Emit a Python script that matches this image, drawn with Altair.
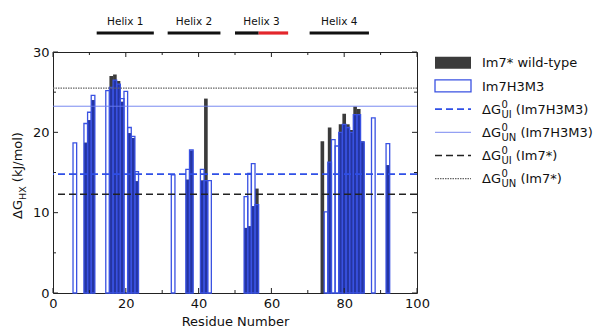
import altair as alt
import pandas as pd

# ---------------------------------------------------------------------------
# Data: hydrogen-exchange protection free energies (kJ/mol) per residue.
# None marks residues with no measurable protection.
# ---------------------------------------------------------------------------
residue = [6, 9, 10, 11, 15, 16, 17, 18, 19, 20, 21, 22, 23,
           33, 37, 38, 41, 42, 43,
           53, 54, 55, 56,
           74, 75, 76, 77, 78, 79, 80, 81, 82, 83, 84, 85, 88, 92]
dg_wt = [None, 18.7, 21.5, 24.0, None, 27.0, 27.2, 26.4, 23.8, None, 19.9, 19.3, 13.9,
         None, 14.1, 17.7, 14.0, 24.2, None,
         8.1, 8.3, 10.8, 13.0,
         18.9, None, 20.6, None, None, 21.0, 22.3, 21.0, 20.3, 23.2, 22.9, 18.9, None, 15.9]
dg_h3m3 = [18.7, 21.1, 22.5, 24.6, 25.2, 25.6, 26.5, 26.0, 24.2, 25.1, 20.6, 19.5, 15.1,
           14.7, 15.4, 17.8, 15.4, 14.0, 14.0,
           12.0, 14.9, 16.1, 11.0,
           None, 10.1, 16.3, 19.1, 18.3, 20.0, 21.0, 20.6, 20.0, 22.2, 22.2, 18.8, 21.8, 18.6]

# Global stabilities from equilibrium denaturation (kJ/mol)
ref_names = ["UI_H3M3", "UN_H3M3", "UI_wt", "UN_wt"]
ref_values = [14.8, 23.25, 12.3, 25.5]

# Secondary structure annotation
helix_names = ["Helix 1", "Helix 2", "Helix 3", "Helix 4"]
helix_start = [12.0, 31.5, 50.0, 70.5]
helix_end = [27.7, 46.0, 64.6, 86.8]
segment_start = [12.0, 31.5, 50.0, 56.5, 70.5]
segment_end = [27.7, 46.0, 56.5, 64.6, 86.8]
segment_kind = ["helix", "helix", "helix", "mutated", "helix"]

x_ticks = [0, 10, 20, 30, 40, 50, 60, 70, 80, 90, 100]
y_ticks = [0, 5, 10, 15, 20, 25, 30]

legend_labels = [
    "Im7* wild-type",
    "Im7H3M3",
    ("ΔG", "0", "UI", " (Im7H3M3)"),
    ("ΔG", "0", "UN", " (Im7H3M3)"),
    ("ΔG", "0", "UI", " (Im7*)"),
    ("ΔG", "0", "UN", " (Im7*)"),
]

# ---------------------------------------------------------------------------
# Styling and layout
# ---------------------------------------------------------------------------
FONT = "DejaVu Sans"
W, H = 364, 241
GRAY = "#3b3b3b"
OVERLAP = "#2435a2"
BLUE = "#3a52e2"
ref_style = {
    "UI_H3M3": dict(color="#2f4fe6", strokeDash=[7, 4], strokeWidth=1.6),
    "UN_H3M3": dict(color="#6a7cee", strokeWidth=0.9),
    "UI_wt": dict(color="#222222", strokeDash=[7, 4], strokeWidth=1.6),
    "UN_wt": dict(color="#666666", strokeDash=[1.5, 1], strokeWidth=1.2),
}

# approximate DejaVu Sans advance widths (em) for placing rich-text pieces
ADV = {" ": .318, "(": .390, ")": .390, "*": .500, "-": .361, "/": .337,
       "0": .636, "3": .636, "7": .636, "Δ": .684, "G": .775, "H": .752,
       "I": .295, "J": .295, "M": .863, "N": .748, "U": .732, "X": .685,
       "k": .579, "l": .278, "m": .974, "o": .612}


def text_width(s, size):
    return size * sum(ADV.get(ch, 0.6) for ch in s)


def split_space(s, size):
    """SVG drops leading blanks, so turn them into an offset instead."""
    stripped = s.lstrip(" ")
    return stripped, text_width(s[: len(s) - len(stripped)], size)


xs = alt.Scale(domain=[0, 100], nice=False, zero=False)
ys = alt.Scale(domain=[0, 30], nice=False)
x_axis = alt.Axis(values=[0, 20, 40, 60, 80, 100], title="Residue Number",
                  labelFlush=False)
y_axis = alt.Axis(values=[0, 10, 20, 30], title=None, labelFlush=False)


def X(field):
    return alt.X(field, type="quantitative", scale=xs, axis=x_axis)


def Y(field):
    return alt.Y(field, type="quantitative", scale=ys, axis=y_axis)


df = pd.DataFrame({"residue": residue, "wt": dg_wt, "h3": dg_h3m3})

layers = []

# wild-type bars (filled)
layers.append(
    alt.Chart(df)
    .transform_filter("isValid(datum.wt)")
    .transform_calculate(x0="datum.residue - 0.5", x1="datum.residue + 0.5")
    .mark_rect(fill=GRAY)
    .encode(x=X("x0"), x2="x1:Q", y=Y("wt"), y2=alt.datum(0))
)
# region shared by both proteins
layers.append(
    alt.Chart(df)
    .transform_filter("isValid(datum.wt) && isValid(datum.h3)")
    .transform_calculate(x0="datum.residue - 0.5", x1="datum.residue + 0.5",
                         ov="min(datum.wt, datum.h3)")
    .mark_rect(fill=OVERLAP)
    .encode(x=X("x0"), x2="x1:Q", y=Y("ov"), y2=alt.datum(0))
)
# Im7H3M3 bars (outlined)
layers.append(
    alt.Chart(df)
    .transform_filter("isValid(datum.h3)")
    .transform_calculate(x0="datum.residue - 0.5", x1="datum.residue + 0.5")
    .mark_rect(filled=False, stroke=BLUE, strokeWidth=1.3)
    .encode(x=X("x0"), x2="x1:Q", y=Y("h3"), y2=alt.datum(0))
)

# horizontal reference lines
for name, val in zip(ref_names, ref_values):
    layers.append(
        alt.Chart(pd.DataFrame({"v": [val]}))
        .mark_rule(**ref_style[name])
        .encode(y=Y("v"))
    )

# inward ticks on all four sides of the frame
tx = pd.DataFrame({"v": x_ticks})
ty = pd.DataFrame({"v": y_ticks})
for major, length in ((True, 5), (False, 3)):
    fx = "datum.v % 20 == 0" if major else "datum.v % 20 != 0"
    fy = "datum.v % 10 == 0" if major else "datum.v % 10 != 0"
    layers.append(alt.Chart(tx).transform_filter(fx).mark_rule(color="#222")
                  .encode(x=X("v"), y=alt.value(H), y2=alt.value(H - length)))
    layers.append(alt.Chart(tx).transform_filter(fx).mark_rule(color="#222")
                  .encode(x=X("v"), y=alt.value(0), y2=alt.value(length)))
    layers.append(alt.Chart(ty).transform_filter(fy).mark_rule(color="#222")
                  .encode(y=Y("v"), x=alt.value(0), x2=alt.value(length)))
    layers.append(alt.Chart(ty).transform_filter(fy).mark_rule(color="#222")
                  .encode(y=Y("v"), x=alt.value(W), x2=alt.value(W - length)))

# helix annotation above the plot
seg = pd.DataFrame({"start": segment_start, "end": segment_end, "kind": segment_kind})
layers.append(
    alt.Chart(seg).mark_rule(strokeWidth=3.2)
    .encode(x=X("start"), x2="end:Q", y=alt.value(-19),
            color=alt.Color("kind:N", legend=None,
                            scale=alt.Scale(domain=["helix", "mutated"],
                                            range=["#111111", "#e3262b"])))
)
hel = pd.DataFrame({"name": helix_names, "start": helix_start, "end": helix_end})
layers.append(
    alt.Chart(hel).transform_calculate(mid="(datum.start + datum.end) / 2")
    .mark_text(font=FONT, fontSize=10.5, baseline="middle", color="#111")
    .encode(x=X("mid"), y=alt.value(-30), text="name:N")
)

# y-axis title with subscript, drawn as rotated text pieces
YT_X = -31
yt_parts = [("ΔG", 13, 0), ("HX", 9.5, 3.5), (" (kJ/mol)", 13, 0)]
total = sum(text_width(t, s) for t, s, _ in yt_parts)
pos = H / 2 + 3 + total / 2
for t, s, shift in yt_parts:
    shown, lead = split_space(t, s)
    layers.append(
        alt.Chart(pd.DataFrame({"t": [shown]}))
        .mark_text(font=FONT, fontSize=s, angle=270, align="left",
                   baseline="alphabetic", color="#111")
        .encode(x=alt.value(YT_X + shift), y=alt.value(pos - lead), text="t:N")
    )
    pos -= text_width(t, s)

# legend
LX0, LX1, LXT = 382, 418, 429
LY0, LDY = 10.7, 23.2
legend_symbols = ["fill", "outline", "UI_H3M3", "UN_H3M3", "UI_wt", "UN_wt"]
one = pd.DataFrame({"k": [0]})
for i, (sym, label) in enumerate(zip(legend_symbols, legend_labels)):
    yc = LY0 + i * LDY
    if sym == "fill":
        layers.append(alt.Chart(one).mark_rect(fill=GRAY)
                      .encode(x=alt.value(LX0), x2=alt.value(LX1),
                              y=alt.value(yc - 6), y2=alt.value(yc + 6)))
    elif sym == "outline":
        layers.append(alt.Chart(one).mark_rect(filled=False, stroke=BLUE, strokeWidth=1.3)
                      .encode(x=alt.value(LX0), x2=alt.value(LX1),
                              y=alt.value(yc - 6), y2=alt.value(yc + 6)))
    else:
        layers.append(alt.Chart(one).mark_rule(**ref_style[sym])
                      .encode(x=alt.value(LX0), x2=alt.value(LX1), y=alt.value(yc)))

    yb = yc + 4.6
    if isinstance(label, str):
        pieces = [(label, 0, 0, 13)]
    else:
        base, sup, sub, tail = label
        w0 = text_width(base, 13) + 0.5
        wsmall = max(text_width(sup, 10), text_width(sub, 10))
        pieces = [(base, 0, 0, 13), (sup, w0, -6, 10), (sub, w0, 3.8, 10),
                  (tail, w0 + wsmall, 0, 13)]
    for t, dx, dy, s in pieces:
        shown, lead = split_space(t, s)
        layers.append(
            alt.Chart(pd.DataFrame({"t": [shown]}))
            .mark_text(font=FONT, fontSize=s, align="left", baseline="alphabetic",
                       color="#111")
            .encode(x=alt.value(LXT + dx + lead), y=alt.value(yb + dy), text="t:N")
        )

chart = (
    alt.layer(*layers)
    .properties(
        width=W, height=H,
        padding={"left": 53, "top": 52, "right": 186, "bottom": 34},
        autosize=alt.AutoSizeParams(type="none"),
    )
    .configure_view(stroke="#222222", strokeWidth=1)
    .configure_axis(
        labelFont=FONT, labelFontSize=13, labelColor="#111", labelPadding=4,
        ticks=False, domain=False, grid=False,
        titleFont=FONT, titleFontSize=13, titleFontWeight="normal",
        titleColor="#111", titlePadding=5,
    )
)

chart.save("out.html", embed_options={"renderer": "svg", "actions": False})
